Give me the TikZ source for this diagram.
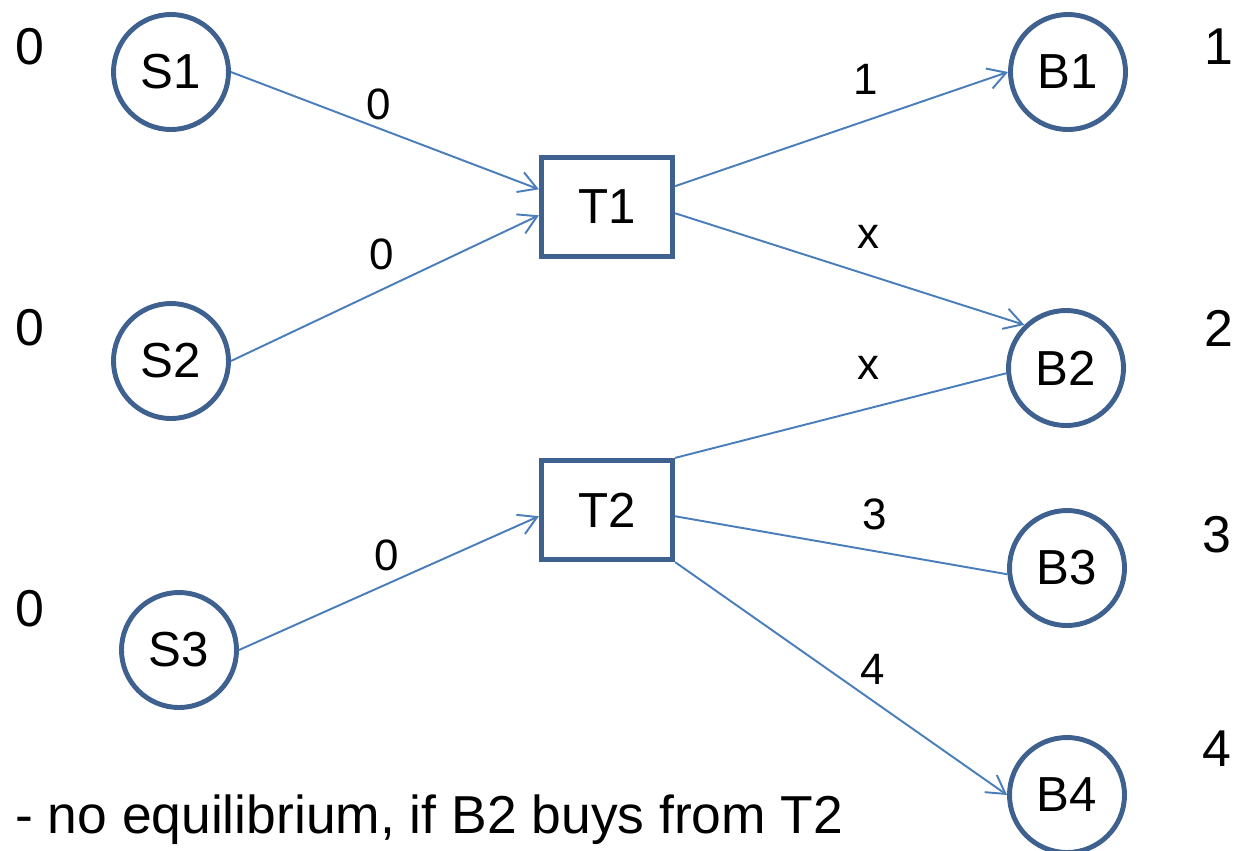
\documentclass[tikz,border=0pt]{standalone}
\usepackage{fontspec}
\setmainfont{Liberation Sans}
\usetikzlibrary{arrows.meta,calc}
\definecolor{nodeblue}{HTML}{3F6190}
\definecolor{edgeblue}{HTML}{4A7EBB}
\begin{document}
\begin{tikzpicture}[x=0.02cm,y=-0.02cm,
  agent/.style={circle,draw=nodeblue,line width=2.8pt,fill=white,minimum size=2.3cm,inner sep=0pt,font=\fontsize{28}{32}\selectfont},
  trader/.style={rectangle,draw=nodeblue,line width=3pt,fill=white,minimum width=2.62cm,minimum height=1.98cm,inner sep=0pt,font=\fontsize{28}{32}\selectfont},
  link/.style={draw=edgeblue,line width=1.1pt},
  arr/.style={link,-{Straight Barb[length=0.36cm,width=0.42cm,line width=1.1pt]}},
  elabel/.style={font=\fontsize{25}{30}\selectfont},
  side/.style={font=\fontsize{29.5}{34}\selectfont}]
\useasboundingbox (0,0) rectangle (1237,850);

% sellers, traders, buyers
\node[agent] (S1) at (171,72) {S1};
\node[agent] (S2) at (171,361) {S2};
\node[agent] (S3) at (179,650) {S3};
\node[trader] (T1) at (607,207) {T1};
\node[trader] (T2) at (607,510) {T2};
\node[agent] (B1) at (1068,72) {B1};
\node[agent] (B2) at (1066,368) {B2};
\node[agent] (B3) at (1067,568) {B3};
\node[agent] (B4) at (1067,795) {B4};

% edge attachment points on the trader boxes
\coordinate (T1a) at ($(T1.north west)!0.33!(T1.south west)$);
\coordinate (T1b) at ($(T1.north west)!0.58!(T1.south west)$);
\coordinate (T1c) at ($(T1.north east)!0.30!(T1.south east)$);
\coordinate (T1d) at ($(T1.north east)!0.56!(T1.south east)$);
\coordinate (T2a) at ($(T2.north west)!0.56!(T2.south west)$);
\coordinate (T2b) at ($(T2.north east)!0.56!(T2.south east)$);

% connectors
\draw[arr] (S1.east) -- (T1a);
\draw[arr] (S2.east) -- (T1b);
\draw[arr] (S3.east) -- (T2a);
\draw[arr] (T1c) -- (B1.west);
\draw[arr] (T1d) -- (B2.134);
\draw[link] (T2.north east) -- (B2.185);
\draw[link] (T2b) -- (B3.186);
\draw[arr] (T2.south east) -- (B4.west);

% edge prices
\node[elabel] (p1) at (379,104) {0};
\node[elabel] (p2) at (382,254) {0};
\node[elabel] (p3) at (387,555) {0};
\node[elabel] (p4) at (866,79) {1};
\node[elabel] (p5) at (868,237) {x};
\node[elabel] (p6) at (868,368) {x};
\node[elabel] (p7) at (875,514) {3};
\node[elabel] (p8) at (873,669) {4};

% values beside the agents
\node[side] (v1) at (30,47) {0};
\node[side] (v2) at (30,328) {0};
\node[side] (v3) at (30,609) {0};
\node[side] (w1) at (1219,47) {1};
\node[side] (w2) at (1219,328) {2};
\node[side] (w3) at (1217,535) {3};
\node[side] (w4) at (1217,749) {4};

\node[font=\fontsize{30.4}{35}\selectfont,anchor=base west] (note) at (9,833) {- no equilibrium, if B2 buys from T2};
\end{tikzpicture}
\end{document}
